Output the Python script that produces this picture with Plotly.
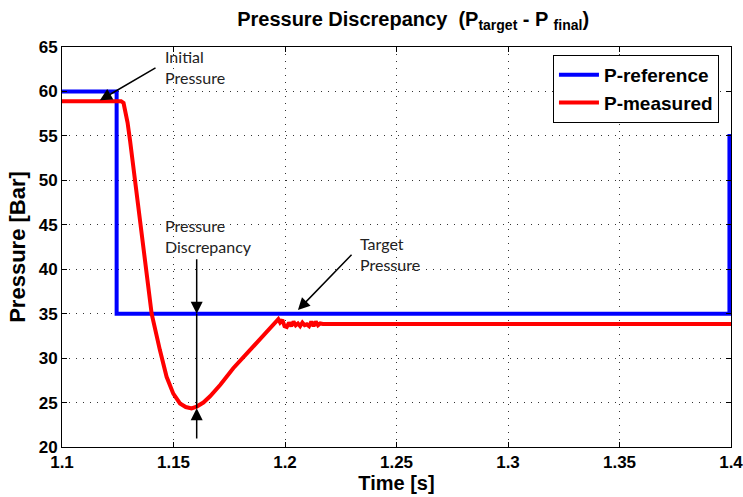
import plotly.graph_objects as go

# ---- data ----
t_ref = [1.1, 1.1245, 1.1245, 1.3993, 1.3993]
p_ref = [60.0, 60.0, 35.0, 35.0, 55.2]

t_meas = [1.1, 1.1265, 1.1276, 1.1283, 1.1294, 1.1305, 1.1327, 1.135, 1.1372, 1.1402,
          1.1439, 1.1469, 1.1499, 1.1529, 1.1555, 1.1581, 1.1604, 1.1634, 1.1664, 1.1710,
          1.1768, 1.1830, 1.1900, 1.1940, 1.197,
          1.1978, 1.1988, 1.1998, 1.2008, 1.2018, 1.2028, 1.2038, 1.2048, 1.2058, 1.2068,
          1.2078, 1.2088, 1.2098, 1.2108, 1.2118, 1.2128, 1.2138, 1.2148, 1.2158, 1.217, 1.4]
p_meas = [58.9, 58.9, 58.7, 57.9, 56.5, 54.5, 50.0, 45.5, 41.5, 35.0,
          30.9, 27.9, 26.0, 24.9, 24.5, 24.35, 24.55, 25.0, 25.7, 27.0,
          28.86, 30.6, 32.5, 33.6, 34.37,
          34.0, 34.3, 33.6, 33.5, 34.0, 33.6, 34.1, 33.7, 33.9, 33.6,
          34.0, 33.7, 33.8, 33.6, 34.1, 33.6, 34.1, 33.7, 33.9, 33.85, 33.85]

x_ticks = [1.1, 1.15, 1.2, 1.25, 1.3, 1.35, 1.4]
x_tick_labels = ["1.1", "1.15", "1.2", "1.25", "1.3", "1.35", "1.4"]
y_ticks = [20, 25, 30, 35, 40, 45, 50, 55, 60, 65]

t_disc = 1.1604
p_target = 35.0
p_min = min(p_meas)

fig = go.Figure()
fig.add_trace(go.Scatter(x=t_ref, y=p_ref, mode="lines", name="<b>P-reference</b>",
                         line=dict(color="#0000ff", width=4)))
fig.add_trace(go.Scatter(x=t_meas, y=p_meas, mode="lines", name="<b>P-measured</b>",
                         line=dict(color="#ff0000", width=4)))

ann_font = dict(family="Lato, Open Sans, sans-serif", size=16, color="#222")
arrow = dict(showarrow=True, arrowhead=2, arrowsize=1.6, arrowwidth=1.5,
             arrowcolor="black", axref="x", ayref="y", xref="x", yref="y", text="")

annotations = [
    dict(x=1.117, y=59.0, ax=1.1426, ay=62.75, **arrow),
    dict(x=1.2058, y=35.4, ax=1.2305, ay=41.8, **arrow),
    dict(x=t_disc, y=p_target, ax=t_disc, ay=41.3, **arrow),
    dict(x=t_disc, y=p_min, ax=t_disc, ay=20.8, **arrow),
    dict(x=1.1453, y=62.75, xref="x", yref="y", xanchor="left", yanchor="middle",
         text="Initial<br>Pressure", showarrow=False, align="left", font=ann_font),
    dict(x=1.1453, y=43.7, xref="x", yref="y", xanchor="left", yanchor="middle",
         text="Pressure<br>Discrepancy", showarrow=False, align="left", font=ann_font),
    dict(x=1.2327, y=41.7, xref="x", yref="y", xanchor="left", yanchor="middle",
         text="Target<br>Pressure", showarrow=False, align="left", font=ann_font),
]

fig.add_shape(type="line", x0=t_disc, x1=t_disc, y0=p_min, y1=p_target,
              line=dict(color="black", width=1.5))

sans = "Liberation Sans, Arial, sans-serif"
tick_font = dict(family=sans, size=17, color="black")
axis_common = dict(showline=True, linecolor="black", linewidth=1, mirror="ticks",
                   ticks="inside", ticklen=5, tickcolor="black", automargin=False,
                   ticklabeloverflow="allow",
                   showgrid=True, gridcolor="rgba(0,0,0,0.8)", griddash="1px,6px",
                   gridwidth=1, zeroline=False, tickfont=tick_font)

fig.update_layout(
    width=743, height=497,
    margin=dict(l=62, r=12, t=47, b=50),
    paper_bgcolor="white", plot_bgcolor="white",
    title=dict(text="<b>Pressure Discrepancy  (P<sub>target</sub> - P <sub>final</sub>)</b>",
               x=0.556, xanchor="center", y=0.962, yanchor="middle",
               font=dict(family=sans, size=20, color="black")),
    xaxis=dict(range=[1.1, 1.4], tickvals=x_ticks, ticktext=[f"<b>{s}</b>" for s in x_tick_labels],
               title=dict(text="<b>Time [s]</b>", standoff=4,
                          font=dict(family=sans, size=20, color="black")),
               **axis_common),
    yaxis=dict(range=[20, 65], tickvals=y_ticks, ticktext=[f"<b>{v}</b>" for v in y_ticks],
               title=dict(text="<b>Pressure [Bar]</b>", standoff=6,
                          font=dict(family=sans, size=22, color="black")),
               **axis_common),
    legend=dict(x=0.982, y=0.98, xanchor="right", yanchor="top",
                bgcolor="white", bordercolor="black", borderwidth=1,
                font=dict(family=sans, size=19, color="black"),
                tracegroupgap=0, itemwidth=40),
    annotations=annotations,
    showlegend=True,
)

fig.write_html("out.html")
